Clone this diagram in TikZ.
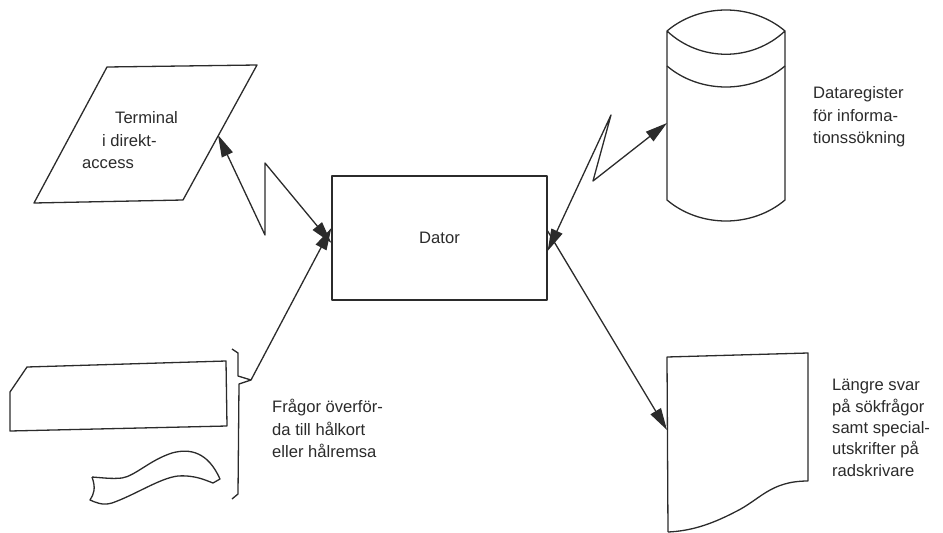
\documentclass[tikz,border=0pt]{standalone}
\usepackage{fontspec}
\setmainfont{Liberation Sans}
\usetikzlibrary{arrows.meta}
\definecolor{ink}{HTML}{2B2B2B}
\begin{document}
\begin{tikzpicture}[x=1pt,y=-1pt,
  line/.style={draw=ink,line width=1.3pt,line join=round},
  arr/.style={line,-{Triangle[length=22pt,width=12pt,fill=ink]}},
  dbl/.style={line,{Triangle[length=22pt,width=12pt,fill=ink]}-{Triangle[length=22pt,width=12pt,fill=ink]}},
  lbl/.style={text=ink,font=\fontsize{16.6}{22.3}\selectfont,inner sep=0pt,anchor=base west}]
\useasboundingbox (0,0) rectangle (943,533);

% Dator
\node[line,minimum width=215pt,minimum height=124pt,inner sep=0pt,
      text=ink,font=\fontsize{16.6}{20}\selectfont] (dator) at (439.5,238) {Dator};

% Terminal (parallelogram)
\coordinate (t1) at (107,67);
\coordinate (t2) at (257,65);
\coordinate (t3) at (183,200);
\coordinate (t4) at (34,203);
\draw[line] (t1) -- (t2) -- (t3) -- (t4) -- cycle;
\node[lbl] (term1) at (115,123) {Terminal};
\node[lbl] (term2) at (102,146) {i direkt-};
\node[lbl] (term3) at (82,168) {access};

% cylinder
\draw[line] (667,31) .. controls (700,3) and (752,3) .. (785,31)
            .. controls (752,62) and (700,62) .. (667,31) -- (667,200)
            .. controls (700,228) and (752,228) .. (785,200) -- (785,31);
\draw[line] (667,66) .. controls (700,94) and (752,94) .. (785,66);
\node[lbl] (db1) at (813,98) {Dataregister};
\node[lbl] (db2) at (813,121) {för informa-};
\node[lbl] (db3) at (813,143) {tionssökning};

% printout
\draw[line] (668,532) -- (667,357) -- (808,353) -- (808,481)
   .. controls (770,481) and (760,500) .. (735,512)
   .. controls (710,525) and (690,531) .. (668,532);
\node[lbl] (pr1) at (832,390) {Längre svar};
\node[lbl] (pr2) at (832,412) {på sökfrågor};
\node[lbl] (pr3) at (832,433) {samt special-};
\node[lbl] (pr4) at (832,454) {utskrifter på};
\node[lbl] (pr5) at (832,476) {radskrivare};

% punched card
\draw[line] (10,392) -- (27,367) -- (226,361) -- (227,426) -- (10,431) -- cycle;

% paper tape
\draw[line] (92,477) .. controls (105,478) and (112,479) .. (122,478)
   .. controls (135,476) and (150,460) .. (172,453)
   .. controls (190,448) and (208,452) .. (220,479)
   -- (213,483)
   .. controls (205,480) and (195,475) .. (178,476)
   .. controls (160,478) and (135,495) .. (112,503)
   .. controls (102,506) and (95,502) .. (90,500)
   .. controls (94,494) and (96,488) .. (92,477);

% brace
\coordinate (brtip) at (251,380);
\draw[line] (232,349) -- (238,353) -- (238,376) -- (brtip) -- (239,384) -- (238,494) -- (232,499);
\node[lbl] (fr1) at (272,412) {Frågor överför-};
\node[lbl] (fr2) at (272,435) {da till hålkort};
\node[lbl] (fr3) at (272,457) {eller hålremsa};

% connectors
\coordinate (tport) at (218,135);
\coordinate (za) at (265,235);
\coordinate (zb) at (265,163);
\coordinate (dinA) at ([yshift=-5pt]dator.west);
\coordinate (dinB) at ([yshift=10pt]dator.west);
\draw[dbl] (tport) -- (za) -- (zb) -- (dinA);
\draw[arr] (brtip) -- (dinB);

\coordinate (cport) at (667,123);
\coordinate (zc) at (593,181);
\coordinate (zd) at (611,115);
\coordinate (doutA) at ([yshift=-13pt]dator.east);
\coordinate (doutB) at ([yshift=7pt]dator.east);
\draw[dbl] (cport) -- (zc) -- (zd) -- (doutA);

\coordinate (pport) at (667,430);
\draw[arr] (doutB) -- (pport);
\end{tikzpicture}
\end{document}
